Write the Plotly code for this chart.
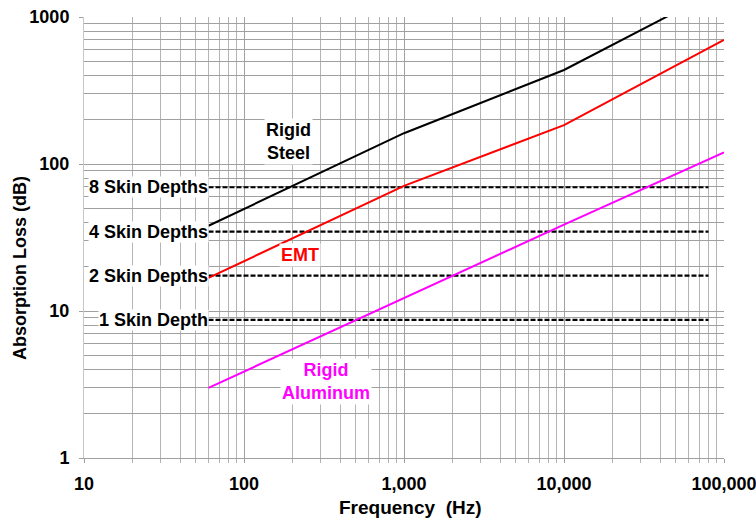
import plotly.graph_objects as go
import math

# Data
steel_f = [60, 1000, 10000, 100000]
steel_db = [38, 162, 436, 1600]
emt_f = [60, 1000, 10000, 100000]
emt_db = [16.8, 71, 184, 698]
alu_f = [60, 1000, 10000, 100000]
alu_db = [3.0, 12.2, 38.7, 120]

skin_labels = ["1 Skin Depth", "2 Skin Depths", "4 Skin Depths", "8 Skin Depths"]
skin_db = [8.69, 17.4, 34.7, 69.5]
skin_f = [60, 80000]

x_tickvals = [10, 100, 1000, 10000, 100000]
x_ticktext = ["10", "100", "1,000", "10,000", "100,000"]
y_tickvals = [1, 10, 100, 1000]
y_ticktext = ["1", "10", "100", "1000"]

FONT = "Liberation Sans, Arial, sans-serif"
BOLD18 = dict(family=FONT, size=18, color="black", weight="bold")

fig = go.Figure()

for lbl, v in zip(skin_labels, skin_db):
    fig.add_trace(go.Scatter(x=skin_f, y=[v, v], mode="lines",
                             line=dict(color="black", width=2.2, dash="5px,2px"),
                             showlegend=False, hoverinfo="skip"))

fig.add_trace(go.Scatter(x=steel_f, y=steel_db, mode="lines",
                         line=dict(color="black", width=2), showlegend=False))
fig.add_trace(go.Scatter(x=emt_f, y=emt_db, mode="lines",
                         line=dict(color="#ff0000", width=2), showlegend=False))
fig.add_trace(go.Scatter(x=alu_f, y=alu_db, mode="lines",
                         line=dict(color="#ff00ff", width=2), showlegend=False))

annotations = []
for lbl, v in zip(skin_labels, skin_db):
    annotations.append(dict(x=math.log10(skin_f[0]), y=math.log10(v), text=lbl,
                            xref="x", yref="y", xanchor="right", yanchor="middle",
                            showarrow=False, bgcolor="white", borderpad=0,
                            font=BOLD18))

annotations.append(dict(x=math.log10(191), y=math.log10(143), text="Rigid<br>Steel",
                        xref="x", yref="y", showarrow=False, bgcolor="white",
                        font=BOLD18))
annotations.append(dict(x=math.log10(224), y=math.log10(24.0), text="EMT",
                        xref="x", yref="y", showarrow=False, bgcolor="white",
                        font=dict(family=FONT, size=18, color="#ff0000", weight="bold")))
annotations.append(dict(x=math.log10(325), y=math.log10(3.34), text="Rigid<br>Aluminum",
                        xref="x", yref="y", showarrow=False, bgcolor="white",
                        font=dict(family=FONT, size=18, color="#ff00ff", weight="bold")))
# y-axis title (placed as in the reference, slightly below centre)
annotations.append(dict(x=-0.10, y=0.431, xref="paper", yref="paper",
                        text="Absorption Loss (dB)", textangle=-90, showarrow=False,
                        xanchor="center", yanchor="middle", font=BOLD18))
# x-axis title
annotations.append(dict(x=0.51, y=(458 - 507) / 441.0, xref="paper", yref="paper",
                        text="Frequency\u00a0\u00a0(Hz)", showarrow=False,
                        xanchor="center", yanchor="middle",
                        font=dict(family=FONT, size=19, color="black", weight="bold")))

fig.update_layout(
    width=756, height=519,
    margin=dict(l=84, r=32, t=17, b=61, autoexpand=False),
    paper_bgcolor="white", plot_bgcolor="white",
    annotations=annotations,
    font=dict(family=FONT, color="black"),
    xaxis=dict(
        type="log", range=[1, 5], automargin=False,
        tickvals=x_tickvals, ticktext=x_ticktext,
        tickfont=BOLD18, ticklabelstandoff=5, ticklabeloverflow="allow",
        showgrid=True, gridcolor="#a0a0a0", gridwidth=1,
        ticks="outside", ticklen=4, tickcolor="#a0a0a0",
        showline=True, linecolor="#a0a0a0", linewidth=1,
        minor=dict(dtick="D1", showgrid=True, gridcolor="#b4b4b4", gridwidth=1,
                   ticks="outside", ticklen=4, tickcolor="#b4b4b4"),
        zeroline=False, mirror=False,
    ),
    yaxis=dict(
        type="log", range=[0, 3], automargin=False,
        tickvals=y_tickvals, ticktext=y_ticktext,
        tickfont=BOLD18, ticklabelstandoff=6,
        showgrid=True, gridcolor="#a0a0a0", gridwidth=1,
        ticks="outside", ticklen=4, tickcolor="#a0a0a0",
        showline=True, linecolor="#c8c8c8", linewidth=1,
        minor=dict(dtick="D1", showgrid=True, gridcolor="#a0a0a0", gridwidth=1),
        zeroline=False,
    ),
)

fig.write_html("out.html")
